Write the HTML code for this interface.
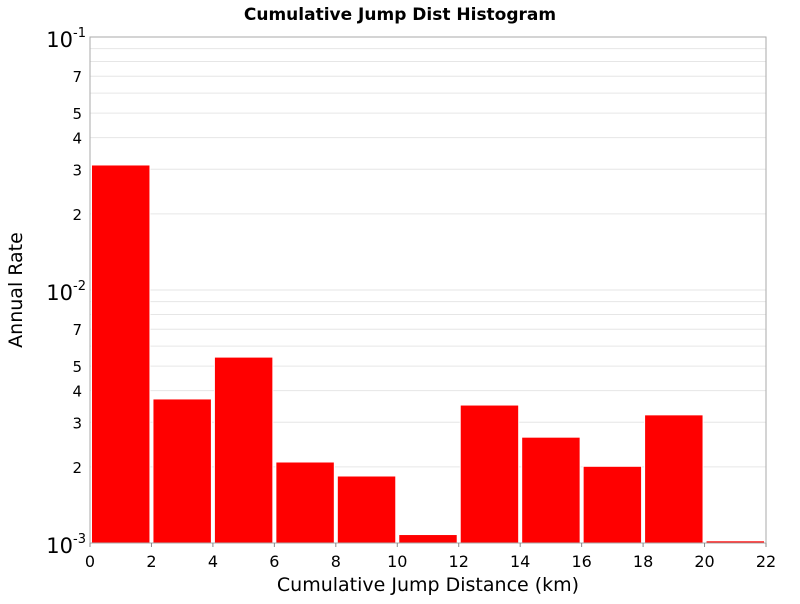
<!DOCTYPE html>
<html><head><meta charset="utf-8"><style>
body{margin:0;background:#fff;font-family:"DejaVu Sans","Liberation Sans",sans-serif}
</style></head><body>
<svg id="chart" width="800" height="600" xmlns="http://www.w3.org/2000/svg" font-family="DejaVu Sans, Liberation Sans, sans-serif">
<text x="400" y="20" text-anchor="middle" font-size="17" font-weight="bold">Cumulative Jump Dist Histogram</text>
<rect x="90" y="37" width="676" height="506" fill="#fff" stroke="none"/>
<g id="grid"></g>
<g id="bars"></g>
<rect x="90" y="37" width="676" height="506" fill="none" stroke="#aaa"/>
<g id="yticks"></g>
<g id="xticks"></g>
<text x="428" y="591" text-anchor="middle" font-size="19">Cumulative Jump Distance (km)</text>
<text transform="translate(22,290) rotate(-90)" text-anchor="middle" font-size="19">Annual Rate</text>
</svg>
<script>
const binStarts=[0,2,4,6,8,10,12,14,16,18,20];
const rates=[0.0312,0.00371,0.00543,0.00209,0.00184,0.00108,0.00351,0.00262,0.00201,0.00321,0.00102];
const binWidth=2;
const xTicks=[0,2,4,6,8,10,12,14,16,18,20,22];
const yMinorLabels=[2,3,4,5,7];
const NS="http://www.w3.org/2000/svg";
const X0=90,X1=766,Y0=543,Y1=37,XMAX=22,LMIN=-3,LMAX=-1;
function xs(v){return X0+(v/XMAX)*(X1-X0);}
function ys(v){return Y0-(Math.log10(v)-LMIN)/(LMAX-LMIN)*(Y0-Y1);}
function mk(t,a){const e=document.createElementNS(NS,t);for(const k in a)e.setAttribute(k,a[k]);return e;}
const grid=document.getElementById('grid'),bars=document.getElementById('bars'),yt=document.getElementById('yticks'),xt=document.getElementById('xticks');
for(let d=LMIN;d<LMAX;d++){for(let m=1;m<10;m++){const v=m*Math.pow(10,d);const y=ys(v);
 if(m>1){const l=mk('line',{x1:X0,x2:X1,y1:y,y2:y,stroke:'#e6e6e6','stroke-width':1});
 
 
 grid.appendChild(l);}
 if(yMinorLabels.includes(m)){const t=mk('text',{x:82,y:y+6,'text-anchor':'end','font-size':15});t.textContent=m;
 
 
 yt.appendChild(t);}}}
for(let d=LMIN;d<=LMAX;d++){const y=ys(Math.pow(10,d));
 const l=mk('line',{x1:X0,x2:X1,y1:y,y2:y,stroke:'#e6e6e6'});
 
 
 grid.appendChild(l);
 const t=mk('text',{x:86,y:y+10,'text-anchor':'end','font-size':21});
 
 
 t.innerHTML='10<tspan font-size="13" dy="-10">'+d+'</tspan>';yt.appendChild(t);}
binStarts.forEach((b,i)=>{const x=xs(b),w=xs(b+binWidth)-x,y=ys(rates[i]);
 const r=mk('rect',{x:x+1.5,y:y,width:w-3,height:Y0-y,fill:'#ff0000',stroke:'#fff','stroke-width':1});
 
 
 bars.appendChild(r);});
xTicks.forEach(v=>{const x=xs(v);
 const l=mk('line',{x1:x,x2:x,y1:Y0,y2:Y0+4,stroke:'#888'});
 
 
 xt.appendChild(l);
 const t=mk('text',{x:x,y:567,'text-anchor':'middle','font-size':16});t.textContent=v;
 
 
 xt.appendChild(t);});
</script>
</body></html>
